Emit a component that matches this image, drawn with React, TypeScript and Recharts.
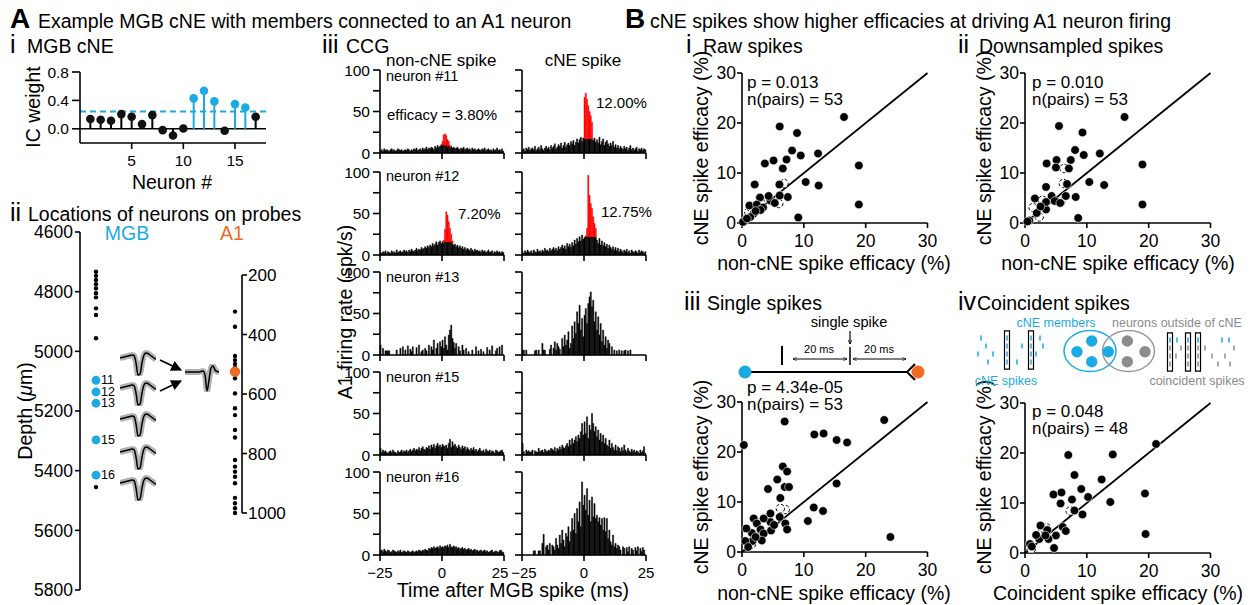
import React from 'react';
import {
  ComposedChart, LineChart, Line, Bar, Scatter, XAxis, YAxis, ReferenceLine, ReferenceArea,
} from 'recharts';

const FONT = '"Liberation Sans", Arial, Helvetica, sans-serif';
const CYAN = '#1BABE2';
const ORANGE = '#EE6B22';
const RED = '#FF0000';
const GRAY = '#8C8C8C';

// ---------------- A i : IC weights ----------------
const neuronNumbers = [1, 2, 3, 4, 5, 6, 7, 8, 9, 10, 11, 12, 13, 14, 15, 16, 17];
const icWeights = [0.137, 0.127, 0.113, 0.207, 0.17, 0.066, 0.193, -0.019, -0.094, 0.005, 0.428, 0.536, 0.386, -0.028, 0.348, 0.301, 0.17];
const cneMembers = [11, 12, 13, 15, 16];
const icThreshold = 0.245;
const icTicks = [0, 0.4, 0.8];
const neuronTicks = [5, 10, 15];

// ---------------- A ii : depths ----------------
const mgbOtherDepths = [4733, 4747, 4761, 4775, 4789, 4805, 4819, 4856, 4878, 4956, 5455];
const mgbMemberDepths = [5097, 5136, 5174, 5297, 5415];
const mgbMemberLabels = ['11', '12', '13', '15', '16'];
const depthTicks = [4600, 4800, 5000, 5200, 5400, 5600, 5800];
const a1Depths = [323, 374, 472, 486, 499, 512, 547, 598, 648, 671, 721, 746, 822, 844, 861, 878, 900, 949, 967, 984, 1000];
const a1TargetDepth = [525];
const a1Ticks = [200, 400, 600, 800, 1000];
const mgbWaveform = [0, 0.5, 1, 1.5, 2, 2.5, 3, 2.5, -5, -17, -16, -5, 3, 5, 4.5, 3, 1.5, 0, -1.5];
const a1Waveform = [0, 0, 0, 0, 0, 0, 0, 0, 0.5, 1, -3, -19, -8, 4, 6, 2, 0.5, 0];

// ---------------- A iii : CCGs (0.5 ms bins, -25..25 ms) ----------------
const ccgBinStart = -25;
const ccgBinWidth = 0.5;
const ccgNon11 = [3,4,2,5,3,4,3,2,4,5, 3,4,2,3,5,4,3,4,2,3, 4,3,5,4,2,4,3,5,4,6, 3,4,5,3,6,4,5,7,4,6, 5,7,6,4,8,6,9,7,8,10, 9,10,9,10,8,9,7,8,6,7, 5,6,7,5,4,6,5,7,4,5, 6,4,5,3,6,4,5,3,4,5, 4,3,5,4,6,3,4,5,3,4, 2,5,3,4,6,3,4,3,5,2];
const ccgNon11Peak = { from: 50, values: [5, 12, 14, 11, 8, 5, 2] };
const ccgCne11 = [3,5,2,6,4,7,3,5,6,4, 8,3,5,7,4,9,5,3,6,8, 5,7,4,9,6,8,11,5,7,10, 8,12,6,9,13,7,10,12,9,14, 11,15,9,13,17,12,16,19,14,18, 17,17,17,17,17,17,17,15,18,13, 16,12,19,10,14,17,9,13,15,11, 8,12,9,14,7,10,6,9,5,8, 6,4,8,5,7,3,6,9,4,6, 3,5,7,2,5,4,6,3,5,4];
const ccgCne11Peak = { from: 50, values: [50, 55, 48, 40, 33, 28, 20] };
const ccgNon12 = [3,2,4,3,5,2,4,3,2,5, 3,4,2,6,3,4,5,3,4,6, 4,5,3,6,4,7,5,4,6,8, 5,7,6,9,7,8,10,8,11,9, 12,10,14,11,13,16,12,15,17,14, 16,15,16,16,16,16,16,16,14,12, 13,10,12,9,11,8,10,7,9,6, 8,7,5,8,6,4,7,5,6,4, 5,3,6,4,5,3,4,6,3,4, 5,2,4,3,5,3,4,2,4,3];
const ccgNon12Peak = { from: 51, values: [3, 15, 36, 32, 24, 16, 9, 3] };
const ccgCne12 = [4,2,5,3,6,4,3,5,2,6, 4,3,7,4,5,3,6,4,8,5, 6,4,8,5,7,9,6,8,5,10, 7,9,12,8,11,7,14,10,13,9, 15,11,18,13,20,16,22,17,24,19, 21,23,22,22,22,22,22,22,22,22, 18,14,20,12,17,11,15,10,13,8, 12,9,7,10,6,9,5,8,4,7, 5,3,6,4,7,3,5,2,6,4, 3,5,4,2,6,3,5,4,2,4];
const ccgCne12Peak = { from: 52, values: [10, 74, 50, 40, 34, 24, 16, 10] };
const ccgNon13 = [12,0,8,0,5,5,5,5,0,0, 0,0,0,6,0,0,8,0,10,0, 6,0,11,0,7,4,10,0,0,9, 0,12,0,4,6,0,8,5,0,12, 0,10,6,18,0,8,14,0,16,10, 18,8,22,12,6,24,30,36,20,15, 8,14,0,10,5,0,12,6,0,8, 0,4,0,0,6,0,0,10,0,5, 0,7,0,4,0,0,9,0,6,0, 11,0,0,5,8,0,10,0,12,0];
const ccgCne13 = [6,6,0,6,0,0,0,0,0,0, 5,6,0,6,0,0,14,6,6,0, 0,0,7,12,0,8,16,6,14,10, 7,0,20,10,24,12,18,28,8,14, 35,20,40,26,52,38,60,30,44,22, 48,56,38,62,70,76,58,66,40,52, 30,46,24,38,16,30,12,22,8,18, 14,0,10,0,6,0,5,0,6,0, 5,0,5,6,0,5,0,6,0,0, 0,0,0,0,0,0,0,0,0,0];
const ccgNon15 = [8,3,6,4,5,3,2,4,5,3, 6,4,3,2,5,3,4,6,3,5, 4,6,3,5,7,4,6,8,5,7, 6,9,5,8,10,7,6,9,8,11, 7,12,9,13,8,11,14,10,12,9, 13,11,10,12,8,14,19,9,16,11, 13,10,8,12,9,7,11,8,10,6, 9,7,5,8,6,9,5,7,4,6, 8,5,4,6,3,7,5,4,6,3, 5,4,2,6,5,3,4,5,6,3];
const ccgCne15 = [14,4,0,6,4,5,3,4,6,0, 5,4,3,8,4,5,6,3,7,5, 4,6,5,8,7,5,9,4,8,6, 10,7,12,9,8,11,14,10,18,12, 20,14,18,22,16,24,20,28,38,24, 40,26,46,20,36,30,50,38,28,34, 22,30,18,26,16,24,14,20,12,10, 18,8,14,9,6,12,5,10,8,4, 9,5,12,6,4,8,5,3,7,4, 6,3,5,4,2,6,3,5,10,2];
const ccgNon16 = [5,6,4,7,5,4,6,5,3,4, 6,5,4,3,5,4,6,3,4,5, 4,3,5,4,3,4,5,3,4,5, 4,6,5,4,6,5,7,6,5,8, 7,9,8,10,8,9,10,8,11,9, 10,9,11,10,12,9,13,10,9,11, 9,10,8,9,7,8,9,7,8,6, 7,8,6,7,5,6,7,5,6,4, 5,6,4,5,6,4,5,3,4,5, 6,3,4,5,4,3,5,6,4,3];
const ccgCne16 = [0,0,0,0,0,0,0,0,0,5, 5,0,0,5,5,0,14,25,0,10, 12,6,14,0,12,10,6,20,12,8, 24,14,30,18,10,26,22,34,16,28, 44,30,50,26,56,40,64,34,88,60, 72,54,80,48,66,40,70,46,62,44, 48,40,45,36,44,30,45,28,44,20, 30,16,12,24,10,14,8,12,10,6, 0,10,8,0,9,4,10,0,8,6, 0,9,5,10,0,8,4,9,6,0];
const ccgTimeTicks = [-25, 0, 25];
const ccgRateTicks = [0, 25, 50, 75, 100];

// ---------------- B : efficacies ----------------
const effTicks = [0, 10, 20, 30];
const rawNonCne = [16.5,6.1,8.9,8.1,5.1,3.7,7.2,9.5,12.3,6.6,18.9,2.05,6.05,10.3,12.4,18.9,9.1,7.4,6.1,4.6,4.3,2.9,1.2,2.4,3.4,1.9,1.35,0.4,0.15,5.3,3.0,2.2,0.8];
const rawCne = [21.2,19.3,18.0,14.5,12.5,11.9,12.7,13.5,13.9,10.9,11.5,7.7,7.7,8.2,7.5,3.7,1.1,5.2,5.5,4.5,5.4,5.1,3.5,3.7,3.1,1.9,1.2,0.4,0.2,4.0,2.6,2.4,0.9];
const rawOverlapNonCne = [6.8, 5.95, 1.1, 1.6, 4.2];
const rawOverlapCne = [7.9, 3.9, 2.2, 2.9, 4.8];
const dsNonCne = [16.1,5.5,9.3,8.1,12.1,9.5,5.1,7.4,3.5,5.0,7.1,19.0,10.4,12.8,6.8,3.4,19.0,8.6,8.2,6.6,4.3,4.8,3.4,3.4,1.6,1.9,0.7,0.4,2.5,5.7];
const dsCne = [21.2,19.4,18.1,14.6,13.9,13.6,12.6,12.6,11.9,11.1,10.9,11.7,8.2,7.6,7.8,7.2,3.7,1.0,5.2,5.4,5.4,4.4,2.7,4.2,4.9,2.0,0.5,0.3,3.3,4.0];
const dsOverlapNonCne = [6.3, 6.2, 5.75, 2.85, 1.3, 2.3];
const dsOverlapCne = [10.9, 7.9, 4.2, 4.55, 3.1, 1.2];
const ssNonCne = [0.3,6.9,23.0,11.7,13.2,15.3,17.0,6.6,7.3,5.7,6.9,7.6,4.2,6.2,15.3,11.6,13.1,10.65,24.0,7.0,7.3,6.1,4.6,4.6,3.5,1.9,2.4,3.0,3.5,1.6,3.2,1.7,0.54,0.7,4.7,5.2,2.2,1.0];
const ssCne = [21.4,26.1,26.4,23.5,23.7,22.4,21.9,17.1,16.1,14.5,13.0,13.0,12.6,10.8,13.7,8.9,8.2,6.2,3.0,5.7,4.5,7.0,6.0,7.7,6.7,6.7,5.7,4.5,3.7,3.8,2.3,2.2,2.2,4.7,4.3,5.4,3.0,1.0];
const ssOverlapNonCne = [7.0, 6.2, 1.5];
const ssOverlapCne = [8.5, 8.7, 1.5];
const ciCoincident = [21.2,7.0,14.2,8.0,12.4,19.4,19.5,4.6,5.9,5.75,9.1,7.6,10.2,13.8,8.0,9.3,6.1,6.6,5.0,4.7,2.5,3.6,3.8,2.3,1.8,0.8,1.1,3.3];
const ciCne = [21.8,19.6,19.7,15.6,14.7,11.9,3.8,11.7,12.1,9.9,12.8,10.7,11.2,10.2,8.5,7.7,5.2,4.4,3.5,1.0,5.5,4.6,2.8,2.8,3.6,1.8,1.3,3.5];
const ciOverlapCoincident = [2.8, 7.3, 3.5, 1.0];
const ciOverlapCne = [5.0, 8.4, 5.0, 0.8];

// ---------------- B iv schematic rasters (spike times, a.u.) ----------------
const cneRasterRows = [
  [12, 31, 41, 55],
  [2, 17, 31, 55, 60],
  [10, 31, 46, 55, 67],
  [5, 31, 55, 64],
];
const cneRasterBoxes = [31, 55];
const coinRasterRows = [
  [5, 23, 33, 53, 65],
  [5, 11, 23, 33, 47, 60],
  [5, 16, 23, 33, 40, 69],
  [5, 12, 23, 33, 57, 64],
];
const coinRasterBoxes = [5, 23, 33];

// ---------------- helpers ----------------
function frame(x0: number, y0: number, x1: number, y1: number, yW: number, xH: number, padT = 6, padR = 6, padB = 0) {
  return {
    left: x0 - yW,
    top: y0 - padT,
    width: x1 - x0 + yW + padR,
    height: y1 - y0 + padT + xH + padB,
    margin: { top: padT, right: padR, left: 0, bottom: padB },
  };
}
const axisStyle = { stroke: '#000', strokeWidth: 1.6 };
const tickStyle = (size: number) => ({ fontSize: size, fill: '#000', fontFamily: FONT });
const minusFmt = (v: number) => (v < 0 ? '\u2212' + Math.abs(v) : String(v));
const pairs = (xs: number[], ys: number[]) => xs.map((x, i) => ({ x, y: ys[i] }));

function Pos({ left, top, children }: any) {
  return <div style={{ position: 'absolute', left, top }}>{children}</div>;
}

// ---------------- panels ----------------
function StemPanel() {
  const f = frame(80, 72, 266, 143, 80, 40, 10, 8);
  const data = neuronNumbers.map((n, i) => ({ x: n, y: icWeights[i], member: cneMembers.includes(n) }));
  return (
    <Pos left={f.left} top={f.top}>
      <ComposedChart width={f.width} height={f.height} margin={f.margin}>
        <XAxis type="number" dataKey="x" domain={[0, 18]} ticks={neuronTicks} interval={0} axisLine={axisStyle} tickLine={axisStyle}
          tickSize={6} tickMargin={6} tick={tickStyle(15.5)} height={40} />
        <YAxis type="number" dataKey="y" domain={[-0.2, 0.8]} ticks={icTicks} interval={0} width={80} axisLine={axisStyle} tickLine={axisStyle}
          tickSize={8} tickMargin={3} tick={tickStyle(15.5)} tickFormatter={(v: number) => v.toFixed(1)} />
        <ReferenceLine y={0} stroke="#000" strokeWidth={1.6} />
        <ReferenceLine y={icThreshold} stroke={CYAN} strokeWidth={2} strokeDasharray="6 4" />
        {data.map((d) => (
          <ReferenceLine key={d.x} segment={[{ x: d.x, y: 0 }, { x: d.x, y: d.y }]} stroke={d.member ? CYAN : '#000'} strokeWidth={2} />
        ))}
        <Scatter data={data} isAnimationActive={false}
          shape={(p: any) => <circle cx={p.cx} cy={p.cy} r={4.3} fill={p.payload.member ? CYAN : '#111'} />} />
      </ComposedChart>
    </Pos>
  );
}

function MgbDepthPanel() {
  const f = frame(80, 232, 180, 590, 80, 0, 10, 4, 10);
  const others = mgbOtherDepths.map((d) => ({ x: 1.6, y: d }));
  const members = mgbMemberDepths.map((d, i) => ({ x: 1.6, y: d, label: mgbMemberLabels[i] }));
  return (
    <Pos left={f.left} top={f.top}>
      <ComposedChart width={f.width} height={f.height} margin={f.margin}>
        <XAxis type="number" dataKey="x" domain={[0, 10]} hide />
        <YAxis type="number" dataKey="y" domain={[4600, 5800]} reversed ticks={depthTicks} interval={0} width={80} axisLine={axisStyle}
          tickLine={axisStyle} tickSize={5} tickMargin={2} tick={tickStyle(17.5)} />
        <Scatter data={others} isAnimationActive={false} shape={(p: any) => <circle cx={p.cx} cy={p.cy} r={2.2} fill="#000" />} />
        <Scatter data={members} isAnimationActive={false}
          shape={(p: any) => (
            <g>
              <circle cx={p.cx} cy={p.cy} r={4.4} fill={CYAN} />
              <text x={p.cx + 5} y={p.cy} dominantBaseline="central" fontSize={12.5} fontFamily={FONT} fill="#000">{p.payload.label}</text>
            </g>
          )} />
      </ComposedChart>
    </Pos>
  );
}

function A1DepthPanel() {
  const others = a1Depths.map((d) => ({ x: 1.3, y: d }));
  const target = a1TargetDepth.map((d) => ({ x: 1.3, y: d }));
  return (
    <Pos left={222} top={275 - 10}>
      <ComposedChart width={20 + 55 + 2} height={238 + 20} margin={{ top: 10, right: 2, left: 0, bottom: 10 }}>
        <XAxis type="number" dataKey="x" domain={[0, 2]} hide />
        <YAxis type="number" dataKey="y" orientation="right" domain={[200, 1000]} reversed ticks={a1Ticks} interval={0} width={55}
          axisLine={axisStyle} tickLine={axisStyle} tickSize={5} tickMargin={1} tick={tickStyle(17)} />
        <Scatter data={others} isAnimationActive={false} shape={(p: any) => <circle cx={p.cx} cy={p.cy} r={2.2} fill="#000" />} />
        <Scatter data={target} isAnimationActive={false} shape={(p: any) => <circle cx={p.cx} cy={p.cy} r={5.2} fill={ORANGE} />} />
      </ComposedChart>
    </Pos>
  );
}

function Wave({ left, top, values, width, domain }: any) {
  const data = values.map((v: number, i: number) => ({ i, v }));
  const h = domain[1] - domain[0];
  return (
    <Pos left={left} top={top}>
      <LineChart width={width} height={h} data={data} margin={{ top: 0, right: 0, left: 0, bottom: 0 }}>
        <XAxis type="number" dataKey="i" domain={[0, values.length - 1]} hide />
        <YAxis type="number" domain={domain} hide />
        <Line type="monotone" dataKey="v" stroke="#9a9a9a" strokeOpacity={0.75} strokeWidth={6} dot={false} isAnimationActive={false} />
        <Line type="monotone" dataKey="v" stroke="#000" strokeWidth={1.5} dot={false} isAnimationActive={false} />
      </LineChart>
    </Pos>
  );
}

function makeTimeTick(side: string, show: boolean) {
  return (props: any) => {
    const { x, y, payload } = props;
    if (!show) return <g />;
    let dx = 0;
    if (side === 'left' && payload.value === 25) dx = -4;
    if (side === 'right' && payload.value === -25) dx = 2;
    return (
      <text x={x + dx} y={y} dy="0.71em" textAnchor="middle" fontSize={15} fontFamily={FONT} fill="#000">
        {minusFmt(payload.value)}
      </text>
    );
  };
}

function CCG({ x0, zero, base, peak, yLabels, xLabels, side }: any) {
  const xH = xLabels ? 30 : 14;
  const f = frame(x0, zero - 83, x0 + 124, zero, 50, xH, 10, 14);
  const data = base.map((b: number, i: number) => {
    let ex = 0;
    if (peak && i >= peak.from && i < peak.from + peak.values.length) ex = peak.values[i - peak.from];
    return { t: ccgBinStart + ccgBinWidth * (i + 0.5), base: b, excess: ex };
  });
  return (
    <Pos left={f.left} top={f.top}>
      <ComposedChart width={f.width} height={f.height} margin={f.margin} data={data} barGap={0} barCategoryGap={0}>
        <XAxis type="number" dataKey="t" domain={[-25, 25]} ticks={ccgTimeTicks} interval={0} axisLine={axisStyle} tickLine={axisStyle}
          tickSize={6} tickMargin={6} tick={makeTimeTick(side, xLabels)} height={xH} />
        <YAxis type="number" domain={[0, 100]} ticks={ccgRateTicks} interval={0} width={50} axisLine={axisStyle} tickLine={axisStyle}
          tickSize={7} tickMargin={3} tick={tickStyle(15.5)}
          tickFormatter={(v: number) => (yLabels && v % 50 === 0 ? String(v) : '')} />
        <Bar dataKey="base" stackId="c" fill="#000" stroke="#000" strokeWidth={0.5} barSize={1.5} isAnimationActive={false} />
        <Bar dataKey="excess" stackId="c" fill={RED} stroke={RED} strokeWidth={0.5} barSize={1.5} isAnimationActive={false} />
      </ComposedChart>
    </Pos>
  );
}

function Efficacy({ x0, y0, xs, ys, oxs, oys }: any) {
  const f = frame(x0, y0, x0 + 185.5, y0 + 150, 50, 36, 10, 12);
  return (
    <Pos left={f.left} top={f.top}>
      <ComposedChart width={f.width} height={f.height} margin={f.margin}>
        <XAxis type="number" dataKey="x" domain={[0, 30]} ticks={effTicks} interval={0} axisLine={axisStyle} tickLine={axisStyle}
          tickSize={5} tickMargin={7} tick={tickStyle(17.5)} height={36} />
        <YAxis type="number" dataKey="y" domain={[0, 30]} ticks={effTicks} interval={0} width={50} axisLine={axisStyle} tickLine={axisStyle}
          tickSize={5} tickMargin={1} tick={tickStyle(17.5)} />
        <ReferenceLine segment={[{ x: 0, y: 0 }, { x: 30, y: 30 }]} stroke="#000" strokeWidth={1.8} />
        <Scatter data={pairs(oxs, oys)} isAnimationActive={false}
          shape={(p: any) => <circle cx={p.cx} cy={p.cy} r={4.2} fill="#fff" stroke="#000" strokeWidth={1} strokeDasharray="3 2" />} />
        <Scatter data={pairs(xs, ys)} isAnimationActive={false}
          shape={(p: any) => <circle cx={p.cx} cy={p.cy} r={4.3} fill="#000" stroke="#fff" strokeWidth={0.6} />} />
      </ComposedChart>
    </Pos>
  );
}

function Raster({ left, top, width, rows, colors, boxes }: any) {
  return (
    <Pos left={left} top={top}>
      <ComposedChart width={width} height={40} margin={{ top: 0, right: 0, left: 0, bottom: 0 }}>
        <XAxis type="number" dataKey="x" domain={[0, width]} hide />
        <YAxis type="number" dataKey="y" domain={[0, 5]} hide />
        {boxes.map((b: number) => (
          <ReferenceArea key={b} x1={b - 2.5} x2={b + 2.5} y1={0.1} y2={4.9} fill="none" fillOpacity={0} stroke="#000" strokeWidth={1.2} />
        ))}
        {rows.map((r: number[], i: number) => (
          <Scatter key={i} data={r.map((t) => ({ x: t, y: i + 1 }))} isAnimationActive={false}
            shape={(p: any) => <line x1={p.cx} x2={p.cx} y1={p.cy - 2.6} y2={p.cy + 2.6} stroke={colors[i]} strokeWidth={1.5} />} />
        ))}
      </ComposedChart>
    </Pos>
  );
}

function T({ x, y, size = 19.5, anchor, fill = '#000', weight, rotate, children }: any) {
  return (
    <text x={x} y={y} fontSize={size} textAnchor={anchor || (rotate ? 'middle' : 'start')} fill={fill} fontWeight={weight} fontFamily={FONT}
      dominantBaseline={rotate ? 'central' : undefined} transform={rotate ? `rotate(-90 ${x} ${y})` : undefined}>
      {children}
    </text>
  );
}

function Overlay() {
  return (
    <svg width={1253} height={605} style={{ position: 'absolute', left: 0, top: 0, overflow: 'visible', pointerEvents: 'none' }}>
      <defs>
        <marker id="ah" viewBox="0 0 10 10" refX="9" refY="5" markerWidth="6" markerHeight="6" orient="auto-start-reverse">
          <path d="M0,0 L10,5 L0,10 z" fill="#000" />
        </marker>
        <marker id="ahs" viewBox="0 0 10 10" refX="9" refY="5" markerWidth="4" markerHeight="4" orient="auto-start-reverse">
          <path d="M0,1 L10,5 L0,9" fill="none" stroke="#000" strokeWidth="1.6" />
        </marker>
      </defs>
      {/* Panel A */}
      <T x={10} y={28} size={28} weight="bold">A</T>
      <T x={38} y={28}>Example MGB cNE with members connected to an A1 neuron</T>
      <T x={10} y={53} size={25}>i</T>
      <T x={27} y={53}>MGB cNE</T>
      <T x={33} y={107} rotate>IC weight</T>
      <T x={172} y={189} anchor="middle">Neuron #</T>
      <T x={10} y={221} size={25}>ii</T>
      <T x={28} y={221}>Locations of neurons on probes</T>
      <T x={127} y={240} anchor="middle" fill={CYAN}>MGB</T>
      <T x={232} y={240} anchor="middle" fill={ORANGE}>A1</T>
      <text x={25} y={411} fontSize={19.5} fontFamily={FONT} textAnchor="middle" dominantBaseline="central" transform="rotate(-90 25 411)">
        Depth (<tspan fontStyle="italic">μ</tspan>m)
      </text>
      <line x1={160} y1={360} x2={181} y2={370} stroke="#000" strokeWidth={1.8} markerEnd="url(#ah)" />
      <line x1={160} y1={391} x2={181} y2={381} stroke="#000" strokeWidth={1.8} markerEnd="url(#ah)" />
      <T x={322} y={53} size={25}>iii</T>
      <T x={346} y={53}>CCG</T>
      <T x={386} y={66} size={17}>non-cNE spike</T>
      <T x={583} y={66} size={17} anchor="middle">cNE spike</T>
      <T x={386} y={81} size={14.5}>neuron #11</T>
      <T x={387} y={120} size={15}>efficacy = 3.80%</T>
      <T x={596} y={108} size={15}>12.00%</T>
      <T x={386} y={181} size={14.5}>neuron #12</T>
      <T x={458} y={219} size={15}>7.20%</T>
      <T x={601} y={217} size={15}>12.75%</T>
      <T x={386} y={282} size={14.5}>neuron #13</T>
      <T x={386} y={382} size={14.5}>neuron #15</T>
      <T x={386} y={482} size={14.5}>neuron #16</T>
      <T x={345} y={312} rotate>A1 firing rate (spk/s)</T>
      <T x={513} y={597} anchor="middle">Time after MGB spike (ms)</T>

      {/* Panel B */}
      <T x={625} y={28} size={28} weight="bold">B</T>
      <T x={650} y={28}>cNE spikes show higher efficacies at driving A1 neuron firing</T>
      <T x={686} y={53} size={25}>i</T>
      <T x={703} y={53}>Raw spikes</T>
      <T x={958} y={53} size={25}>ii</T>
      <T x={979} y={53}>Downsampled spikes</T>
      <T x={684} y={310} size={25}>iii</T>
      <T x={707} y={310}>Single spikes</T>
      <T x={958} y={310} size={25}>iv</T>
      <T x={977} y={310}>Coincident spikes</T>

      <T x={701} y={148} rotate>cNE spike efficacy (%)</T>
      <T x={984} y={148} rotate>cNE spike efficacy (%)</T>
      <T x={701} y={477} rotate>cNE spike efficacy (%)</T>
      <T x={984} y={477} rotate>cNE spike efficacy (%)</T>
      <T x={834} y={270} anchor="middle">non-cNE spike efficacy (%)</T>
      <T x={1118} y={270} anchor="middle">non-cNE spike efficacy (%)</T>
      <T x={834} y={600} anchor="middle">non-cNE spike efficacy (%)</T>
      <T x={1118} y={600} anchor="middle">Coincident spike efficacy (%)</T>

      <T x={747} y={88} size={17}>p = 0.013</T>
      <T x={747} y={105} size={17}>n(pairs) = 53</T>
      <T x={1032} y={88} size={17}>p = 0.010</T>
      <T x={1032} y={105} size={17}>n(pairs) = 53</T>
      <T x={747} y={393} size={17}>p = 4.34e-05</T>
      <T x={747} y={410} size={17}>n(pairs) = 53</T>
      <T x={1032} y={417} size={17}>p = 0.048</T>
      <T x={1032} y={434} size={17}>n(pairs) = 48</T>

      {/* B iii schematic */}
      <line x1={745} y1={372} x2={907} y2={372} stroke="#000" strokeWidth={2} />
      <polyline points="915,364 907,372 915,380" fill="none" stroke="#000" strokeWidth={2} />
      <circle cx={745} cy={372} r={6.5} fill={CYAN} />
      <circle cx={918} cy={372} r={6.5} fill={ORANGE} />
      <line x1={782} y1={346} x2={782} y2={365} stroke="#000" strokeWidth={2} />
      <line x1={850} y1={347} x2={850} y2={365} stroke="#000" strokeWidth={1.5} />
      <line x1={850} y1={331} x2={850} y2={344} stroke="#000" strokeWidth={1.2} markerEnd="url(#ahs)" />
      <line x1={793} y1={359} x2={847} y2={359} stroke="#000" strokeWidth={1} markerStart="url(#ahs)" markerEnd="url(#ahs)" />
      <line x1={853} y1={359} x2={906} y2={359} stroke="#000" strokeWidth={1} markerStart="url(#ahs)" markerEnd="url(#ahs)" />
      <T x={849} y={327} size={14.7} anchor="middle">single spike</T>
      <T x={819} y={353} size={11} anchor="middle">20 ms</T>
      <T x={879} y={353} size={11} anchor="middle">20 ms</T>

      {/* B iv schematic */}
      <ellipse cx={1090} cy={351} rx={26} ry={20.5} fill="none" stroke={CYAN} strokeWidth={1.5} />
      <ellipse cx={1128.5} cy={351} rx={26} ry={20.5} fill="none" stroke="#999" strokeWidth={1.5} />
      <circle cx={1077} cy={351.7} r={5.7} fill={CYAN} />
      <circle cx={1091.7} cy={341} r={5.7} fill={CYAN} />
      <circle cx={1091.7} cy={361.7} r={5.7} fill={CYAN} />
      <circle cx={1108.3} cy={351.7} r={5.7} fill={CYAN} />
      <circle cx={1127.3} cy={341} r={5.7} fill={GRAY} />
      <circle cx={1127.3} cy={361.7} r={5.7} fill={GRAY} />
      <circle cx={1145} cy={351.7} r={5.7} fill={GRAY} />
      <T x={1056} y={327} size={12.5} anchor="middle" fill={CYAN}>cNE members</T>
      <T x={1177} y={327} size={12.5} anchor="middle" fill="#8a8a8a">neurons outside of cNE</T>
      <T x={1006} y={385} size={12.5} anchor="middle" fill={CYAN}>cNE spikes</T>
      <T x={1197} y={385} size={12.5} anchor="middle" fill="#8a8a8a">coincident spikes</T>
    </svg>
  );
}

const waveTops = [350, 380, 411, 444, 475];
const ccgZeros = [153, 255, 355, 455, 555];

export default function App() {
  const nonRows = [
    { base: ccgNon11, peak: ccgNon11Peak },
    { base: ccgNon12, peak: ccgNon12Peak },
    { base: ccgNon13 },
    { base: ccgNon15 },
    { base: ccgNon16 },
  ];
  const cneRows = [
    { base: ccgCne11, peak: ccgCne11Peak },
    { base: ccgCne12, peak: ccgCne12Peak },
    { base: ccgCne13 },
    { base: ccgCne15 },
    { base: ccgCne16 },
  ];
  return (
    <div style={{ position: 'absolute', left: 0, top: 0, width: 1253, height: 605, background: '#fff', fontFamily: FONT, overflow: 'hidden' }}>
      <StemPanel />
      <MgbDepthPanel />
      <A1DepthPanel />
      {waveTops.map((t) => (
        <Wave key={t} left={120} top={t} values={mgbWaveform} width={36} domain={[-18, 8]} />
      ))}
      <Wave left={185} top={364} values={a1Waveform} width={34} domain={[-20, 8]} />
      {nonRows.map((r, i) => (
        <CCG key={'n' + i} side="left" x0={380} zero={ccgZeros[i]} base={r.base} peak={r.peak} yLabels xLabels={i === 4} />
      ))}
      {cneRows.map((r, i) => (
        <CCG key={'c' + i} side="right" x0={522} zero={ccgZeros[i]} base={r.base} peak={r.peak} yLabels={false} xLabels={i === 4} />
      ))}
      <Efficacy x0={742} y0={73} xs={rawNonCne} ys={rawCne} oxs={rawOverlapNonCne} oys={rawOverlapCne} />
      <Efficacy x0={1025} y0={73} xs={dsNonCne} ys={dsCne} oxs={dsOverlapNonCne} oys={dsOverlapCne} />
      <Efficacy x0={742} y0={402} xs={ssNonCne} ys={ssCne} oxs={ssOverlapNonCne} oys={ssOverlapCne} />
      <Efficacy x0={1025} y0={402.5} xs={ciCoincident} ys={ciCne} oxs={ciOverlapCoincident} oys={ciOverlapCne} />
      <Raster left={976} top={330} width={70} rows={cneRasterRows} colors={[CYAN, CYAN, CYAN, CYAN]} boxes={cneRasterBoxes} />
      <Raster left={1165} top={332} width={75} rows={coinRasterRows} colors={[GRAY, GRAY, GRAY, CYAN]} boxes={coinRasterBoxes} />
      <Overlay />
    </div>
  );
}
